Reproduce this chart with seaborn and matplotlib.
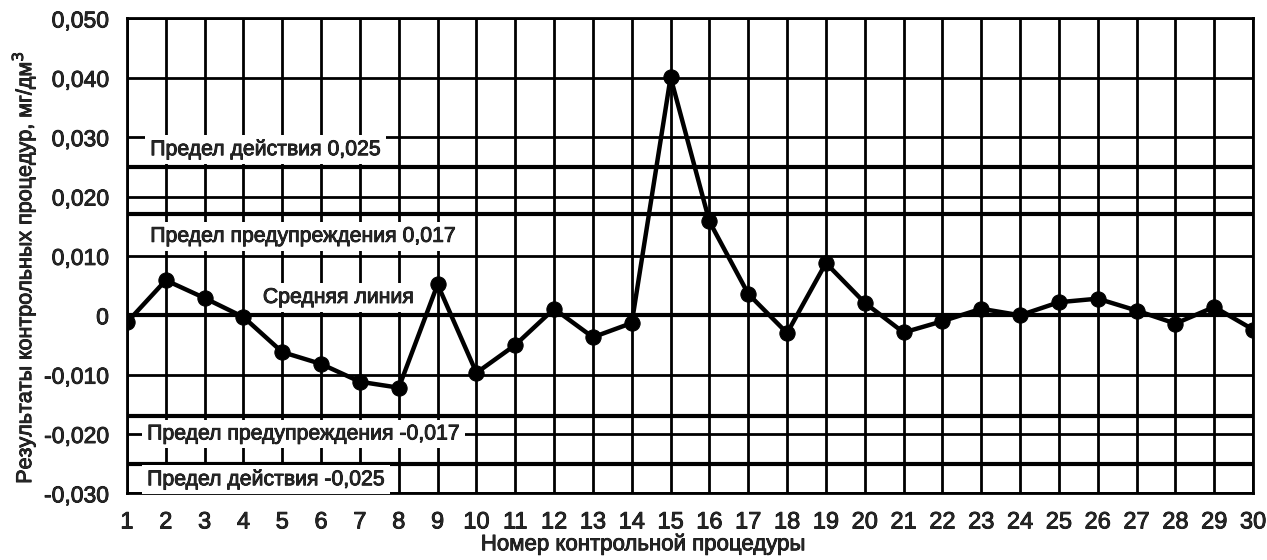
import matplotlib
matplotlib.use("Agg")
import matplotlib.pyplot as plt
import matplotlib.ticker as mticker
import matplotlib.patheffects as pe
import pandas as pd
import seaborn as sns

# data
procedure = list(range(1, 31))
results = [-0.0012, 0.0059, 0.0029, -0.0003, -0.0062, -0.0082, -0.0112, -0.0122, 0.0052, -0.0097,
           -0.0050, 0.0011, -0.0037, -0.0013, 0.0401, 0.0158, 0.0036, -0.0030, 0.0088, 0.0021,
           -0.0029, -0.0010, 0.0011, 0.0000, 0.0022, 0.0028, 0.0008, -0.0014, 0.0014, -0.0024]

limit_values = [0.025, 0.017, 0.0, -0.017, -0.025]
limit_labels = ["Предел действия 0,025", "Предел предупреждения 0,017", "Средняя линия",
                "Предел предупреждения -0,017", "Предел действия -0,025"]
label_x = [1.6, 1.6, 4.5, 1.52, 1.52]
label_y = [0.0279, 0.0133, 0.0030, -0.0200, -0.0277]

y_ticks = [-0.030, -0.020, -0.010, 0.0, 0.010, 0.020, 0.030, 0.040, 0.050]

df = pd.DataFrame({"procedure": procedure, "result": results})

sns.set_style("white")
plt.rcParams["font.family"] = ["Liberation Sans", "DejaVu Sans"]
thick = [pe.withStroke(linewidth=0.6, foreground="black")]

fig = plt.figure(figsize=(12.67, 5.6), dpi=100)
ax = fig.add_axes([0.1002, 0.119, 0.8888, 0.848])

# grid
for x in procedure:
    ax.axvline(x, color="black", lw=2.0, zorder=1)
for y in y_ticks:
    ax.axhline(y, color="black", lw=2.0, zorder=1)

# control limits and mean line
for v in limit_values:
    ax.axhline(v, color="black", lw=3.0, zorder=2)

for t, x, y in zip(limit_labels, label_x, label_y):
    ax.text(x, y, t, fontsize=15.3, ha="left", va="center", zorder=3, path_effects=thick,
            bbox=dict(facecolor="white", edgecolor="none", pad=3.5))

sns.lineplot(data=df, x="procedure", y="result", ax=ax, color="black", lw=3.2,
             marker="o", markersize=11, markeredgecolor="black", zorder=5)

ax.set_xlim(1, 30)
ax.set_ylim(-0.030, 0.050)
ax.set_xticks(procedure)
ax.set_yticks(y_ticks)
ax.yaxis.set_major_formatter(mticker.FuncFormatter(
    lambda v, p: "0" if abs(v) < 1e-9 else f"{v:.3f}".replace(".", ",")))
ax.tick_params(axis="both", direction="out", length=11, width=2, color="black",
               labelsize=16.5, pad=2)
ax.tick_params(axis="x", labelsize=17)
for lab in ax.get_xticklabels() + ax.get_yticklabels():
    lab.set_path_effects(thick)
for s in ax.spines.values():
    s.set_color("black")
    s.set_linewidth(2)

ax.set_xlabel("Номер контрольной процедуры", fontsize=16, path_effects=thick)
ax.xaxis.set_label_coords(0.458, -0.085)
ax.set_ylabel("Результаты контрольных процедур, мг/дм$^3$", fontsize=15.5, path_effects=thick)
ax.yaxis.set_label_coords(-0.078, 0.475)

fig.savefig("out.png", dpi=100)
